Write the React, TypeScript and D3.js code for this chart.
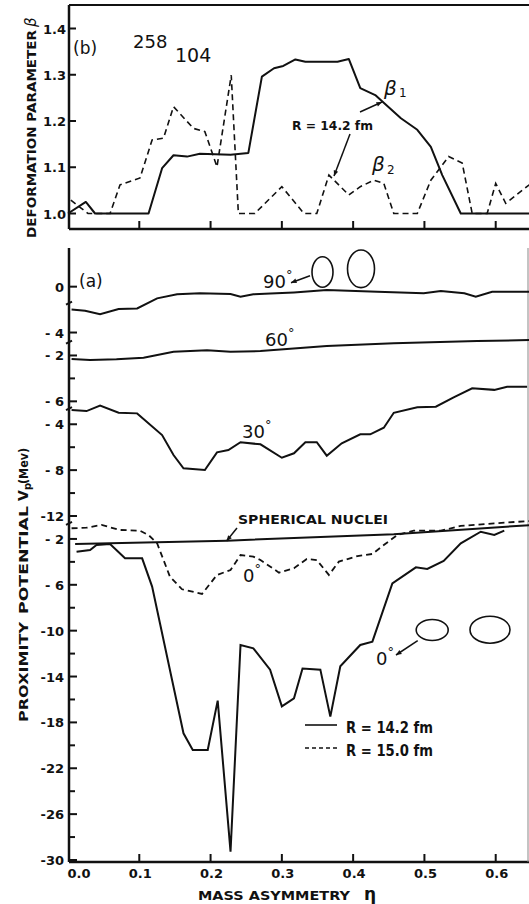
import React from "react";
import * as d3 from "d3";

// ---------- Data ----------
// Panel (b): deformation parameters vs mass asymmetry
const beta1Eta = [0.0, 0.025, 0.038, 0.113, 0.132, 0.148, 0.167, 0.185, 0.228, 0.253, 0.272, 0.289, 0.302, 0.319, 0.333, 0.378, 0.394, 0.41, 0.431, 0.441, 0.467, 0.49, 0.509, 0.525, 0.551, 0.647];
const beta1Val = [1.0, 1.025, 1.0, 1.0, 1.098, 1.126, 1.123, 1.129, 1.127, 1.131, 1.296, 1.314, 1.319, 1.333, 1.328, 1.328, 1.334, 1.271, 1.256, 1.242, 1.206, 1.181, 1.144, 1.083, 1.0, 1.0];

const beta2Eta = [0.004, 0.028, 0.059, 0.073, 0.101, 0.118, 0.134, 0.148, 0.176, 0.192, 0.209, 0.229, 0.239, 0.262, 0.3, 0.331, 0.349, 0.366, 0.394, 0.41, 0.429, 0.443, 0.457, 0.49, 0.509, 0.534, 0.553, 0.567, 0.588, 0.6, 0.614, 0.647];
const beta2Val = [1.029, 1.0, 1.0, 1.062, 1.077, 1.159, 1.163, 1.231, 1.184, 1.177, 1.101, 1.299, 1.0, 1.0, 1.058, 1.0, 1.0, 1.083, 1.04, 1.058, 1.072, 1.065, 1.0, 1.0, 1.072, 1.123, 1.109, 1.0, 1.0, 1.065, 1.022, 1.062];

// Panel (a): proximity potential (each curve in its own shifted scale)
const pot90Eta = [0.005, 0.024, 0.045, 0.071, 0.097, 0.125, 0.153, 0.185, 0.228, 0.242, 0.26, 0.284, 0.317, 0.363, 0.434, 0.499, 0.523, 0.556, 0.572, 0.595, 0.647];
const pot90Val = [-2.0, -2.1, -2.4, -1.95, -1.9, -1.02, -0.67, -0.58, -0.64, -0.88, -0.67, -0.6, -0.5, -0.3, -0.44, -0.58, -0.38, -0.58, -0.88, -0.44, -0.44];
const pot90Offset = 20;

const pot60Eta = [0.005, 0.031, 0.068, 0.106, 0.148, 0.195, 0.228, 0.27, 0.363, 0.457, 0.574, 0.647];
const pot60Val = [-2.31, -2.4, -2.34, -2.2, -1.68, -1.55, -1.68, -1.62, -1.18, -0.94, -0.74, -0.66];
const pot60Offset = 16;

const pot30Eta = [0.005, 0.026, 0.045, 0.071, 0.097, 0.132, 0.148, 0.162, 0.192, 0.209, 0.225, 0.242, 0.27, 0.3, 0.317, 0.333, 0.349, 0.363, 0.384, 0.41, 0.424, 0.443, 0.457, 0.49, 0.516, 0.541, 0.567, 0.598, 0.616, 0.644];
const pot30Val = [-2.76, -2.85, -2.38, -3.0, -3.05, -4.94, -6.68, -7.84, -7.99, -6.45, -6.25, -5.57, -5.75, -6.92, -6.53, -5.57, -5.57, -6.74, -5.66, -4.88, -4.88, -4.3, -3.0, -2.52, -2.47, -1.65, -0.87, -1.0, -0.73, -0.73];
const pot30Offset = 12;

const pot0R15Eta = [0.005, 0.026, 0.047, 0.073, 0.101, 0.113, 0.125, 0.143, 0.16, 0.188, 0.209, 0.228, 0.242, 0.26, 0.27, 0.296, 0.317, 0.335, 0.349, 0.366, 0.38, 0.406, 0.427, 0.443, 0.462, 0.485, 0.523, 0.551, 0.598, 0.647];
const pot0R15Val = [-1.07, -1.02, -0.78, -1.22, -1.28, -1.66, -2.38, -5.29, -6.39, -6.8, -5.14, -4.71, -3.4, -3.54, -3.84, -4.94, -4.56, -3.75, -3.84, -5.14, -3.98, -3.49, -3.31, -2.53, -1.66, -1.28, -1.28, -0.87, -0.64, -0.44];

const pot0R14Eta = [0.012, 0.031, 0.04, 0.059, 0.08, 0.104, 0.118, 0.129, 0.146, 0.162, 0.175, 0.196, 0.21, 0.228, 0.242, 0.26, 0.2835, 0.3, 0.317, 0.329, 0.354, 0.368, 0.382, 0.41, 0.427, 0.455, 0.488, 0.504, 0.527, 0.551, 0.579, 0.598, 0.612];
const pot0R14Val = [-3.11, -2.96, -2.53, -2.44, -3.69, -3.69, -6.16, -9.35, -14.3, -18.95, -20.4, -20.4, -16.1, -29.27, -11.25, -11.54, -13.4, -16.6, -15.9, -13.3, -13.4, -17.5, -13.1, -11.25, -10.96, -5.87, -4.48, -4.62, -3.92, -2.38, -1.37, -1.66, -1.28];

const sphericalEta = [0.01, 0.223, 0.457, 0.647];
const sphericalVal = [-2.44, -2.15, -1.59, -0.8];

// Axis ticks
const xTickValues = [0.1, 0.2, 0.3, 0.4, 0.5, 0.6];
const xTickLabelValues = [0.0, 0.1, 0.2, 0.3, 0.4, 0.5, 0.6];
const betaTicks = [1.0, 1.1, 1.2, 1.3, 1.4];
const potTickValues = [20, 16, 14, 10, 8, 4, 0, -2, -6, -10, -14, -18, -22, -26, -30];
const potTickLabels = ["0", "- 4", "- 2", "- 6", "- 4", "- 8", "-12", "- 2", "- 6", "-10", "-14", "-18", "-22", "-26", "-30"];
const potMinorTicks = [12, 6, 2, -4, -8, -12, -16, -20, -24, -28];
const potBreaks = [18.6, 15.2, 9.4, -0.6];

// ---------- Component ----------
export default function App() {
  const W = 529, H = 904;
  const x = d3.scaleLinear().domain([0, 0.6467]).range([68, 529]);
  const yB = d3.scaleLinear().domain([1.0, 1.4]).range([213.5, 28.5]);
  const yP = d3.scaleLinear().domain([0, -30]).range([516, 860]);

  const topY0 = 5, topY1 = 229;
  const botY0 = 248, botY1 = 862;
  const axX = 69;

  const line = d3.line<[number, number]>().x(d => d[0]).y(d => d[1]);
  const mk = (etas: number[], vals: number[], ys: (v: number) => number, off = 0) =>
    line(etas.map((e, i) => [x(e), ys(vals[i] + off)] as [number, number])) || "";

  const font = "'DejaVu Sans', 'Liberation Sans', sans-serif";
  const ink = "#111";

  const arrowHead = (x1: number, y1: number, x2: number, y2: number, size = 6) => {
    const a = Math.atan2(y2 - y1, x2 - x1);
    const p1 = [x2 - size * Math.cos(a - 0.4), y2 - size * Math.sin(a - 0.4)];
    const p2 = [x2 - size * Math.cos(a + 0.4), y2 - size * Math.sin(a + 0.4)];
    return (
      <g>
        <line x1={x1} y1={y1} x2={x2} y2={y2} stroke={ink} strokeWidth={1.5} />
        <path d={`M${x2},${y2}L${p1[0]},${p1[1]}L${p2[0]},${p2[1]}Z`} fill={ink} />
      </g>
    );
  };

  const deg = (xx: number, yy: number, num: string) => (
    <text x={xx} y={yy} fontSize={18} fill={ink}>
      {num}
      <tspan dy={-9} fontSize={13}>°</tspan>
    </text>
  );

  return (
    <svg width={W} height={H} style={{ position: "absolute", left: 0, top: 0, background: "#fff" }} fontFamily={font}>
      <rect x={0} y={0} width={W} height={H} fill="#fff" />

      {/* ---------- Top panel (b) ---------- */}
      <g>
        <line x1={axX} y1={topY0} x2={axX} y2={topY1} stroke={ink} strokeWidth={2.5} />
        <line x1={axX} y1={topY0} x2={W} y2={topY0} stroke={ink} strokeWidth={2} />
        <line x1={axX} y1={topY1} x2={W} y2={topY1} stroke={ink} strokeWidth={2.5} />
        {xTickValues.map(t => (
          <line key={"tb" + t} x1={x(t)} x2={x(t)} y1={topY1} y2={topY1 - 8} stroke={ink} strokeWidth={2} />
        ))}
        {betaTicks.map(t => (
          <g key={"bt" + t}>
            <line x1={axX} x2={axX + 7} y1={yB(t)} y2={yB(t)} stroke={ink} strokeWidth={2} />
            <text x={66} y={yB(t) + 5} textAnchor="end" fontSize={13} fontWeight="bold" fill={ink}>{t.toFixed(1)}</text>
          </g>
        ))}
        <text transform="translate(36,238) rotate(-90)" fontSize={13} fontWeight="bold" fill={ink} textLength={208} lengthAdjust="spacingAndGlyphs">DEFORMATION PARAMETER</text>
        <text transform="translate(36,27) rotate(-90)" fontSize={15} fontStyle="italic" fill={ink}>β</text>

        <path d={mk(beta1Eta, beta1Val, yB)} fill="none" stroke={ink} strokeWidth={2} strokeLinejoin="round" />
        <path d={mk(beta2Eta, beta2Val, yB)} fill="none" stroke={ink} strokeWidth={1.6} strokeDasharray="6,4" />

        <text x={73} y={54} fontSize={17} fill={ink}>(b)</text>
        <text x={133} y={48} fontSize={18} fill={ink}>258</text>
        <text x={175} y={62} fontSize={19} fill={ink}>104</text>

        <text x={384} y={95} fontSize={20} fontStyle="italic" fill={ink}>β</text>
        <text x={399} y={97} fontSize={12} fill={ink}>1</text>
        <text x={372} y={171} fontSize={20} fontStyle="italic" fill={ink}>β</text>
        <text x={387} y={174} fontSize={12} fill={ink}>2</text>

        <text x={292} y={130} fontSize={13} fontWeight="bold" fill={ink} textLength={81} lengthAdjust="spacingAndGlyphs">R = 14.2 fm</text>
        {arrowHead(360, 112, 382, 102)}
        {arrowHead(350, 134, 334, 176)}
      </g>

      {/* ---------- Bottom panel (a) ---------- */}
      <g>
        <line x1={axX} y1={botY0} x2={axX} y2={botY1} stroke={ink} strokeWidth={2.5} />
        <line x1={axX} y1={botY1} x2={W} y2={botY1} stroke={ink} strokeWidth={2.5} />
        <line x1={528} y1={botY0} x2={528} y2={botY1} stroke="#888" strokeWidth={1} />
        {xTickValues.map(t => (
          <line key={"tx" + t} x1={x(t)} x2={x(t)} y1={botY1} y2={botY1 - 8} stroke={ink} strokeWidth={2} />
        ))}
        {xTickLabelValues.map(t => (
          <text key={"xl" + t} x={t === 0 ? x(t) + 11 : x(t) + 1} y={878} textAnchor="middle" fontSize={13} fontWeight="bold" fill={ink}>{t.toFixed(1)}</text>
        ))}
        {potTickValues.map((t, i) => (
          <g key={"pt" + i}>
            <line x1={axX} x2={axX + 8} y1={yP(t)} y2={yP(t)} stroke={ink} strokeWidth={2} />
            <text x={64} y={yP(t) + 5} textAnchor="end" fontSize={13} fontWeight="bold" fill={ink}>{potTickLabels[i]}</text>
          </g>
        ))}
        {potMinorTicks.map(t => (
          <line key={"pm" + t} x1={axX} x2={axX + 6} y1={yP(t)} y2={yP(t)} stroke={ink} strokeWidth={2} />
        ))}
        {potBreaks.map(t => (
          <line key={"pb" + t} x1={axX - 3} x2={axX + 3} y1={yP(t) + 2} y2={yP(t) - 1} stroke={ink} strokeWidth={2} />
        ))}

        <text transform="translate(28,722) rotate(-90)" fontSize={13} fontWeight="bold" fill={ink} textLength={100} lengthAdjust="spacingAndGlyphs">PROXIMITY</text>
        <text transform="translate(28,614) rotate(-90)" fontSize={13} fontWeight="bold" fill={ink} textLength={108} lengthAdjust="spacingAndGlyphs">POTENTIAL</text>
        <text transform="translate(28,501) rotate(-90)" fontSize={14} fontWeight="bold" fill={ink}>V</text>
        <text transform="translate(31,490) rotate(-90)" fontSize={10} fontWeight="bold" fill={ink}>p</text>
        <text transform="translate(28,484) rotate(-90)" fontSize={13} fontWeight="bold" fill={ink} textLength={36} lengthAdjust="spacingAndGlyphs">(Mev)</text>

        <text x={198} y={900} fontSize={13} fontWeight="bold" fill={ink} textLength={152} lengthAdjust="spacingAndGlyphs">MASS ASYMMETRY</text>
        <text x={364} y={900} fontSize={17} fontWeight="bold" fill={ink}>η</text>

        <path d={mk(pot90Eta, pot90Val, yP, pot90Offset)} fill="none" stroke={ink} strokeWidth={2} />
        <path d={mk(pot60Eta, pot60Val, yP, pot60Offset)} fill="none" stroke={ink} strokeWidth={2} />
        <path d={mk(pot30Eta, pot30Val, yP, pot30Offset)} fill="none" stroke={ink} strokeWidth={2} />
        <path d={mk(sphericalEta, sphericalVal, yP)} fill="none" stroke={ink} strokeWidth={2} />
        <path d={mk(pot0R15Eta, pot0R15Val, yP)} fill="none" stroke={ink} strokeWidth={1.8} strokeDasharray="6,4" />
        <path d={mk(pot0R14Eta, pot0R14Val, yP)} fill="none" stroke={ink} strokeWidth={2} strokeLinejoin="miter" />

        <text x={79} y={287} fontSize={17} fill={ink}>(a)</text>
        {deg(263, 288, "90")}
        {deg(265, 346, "60")}
        {deg(242, 438, "30")}
        {deg(243, 582, "0")}
        {deg(376, 665, "0")}

        <ellipse cx={322.5} cy={272} rx={10.5} ry={15.3} fill="none" stroke={ink} strokeWidth={1.6} />
        <ellipse cx={361} cy={268.8} rx={13.5} ry={18.8} fill="none" stroke={ink} strokeWidth={1.6} />
        {arrowHead(310, 275.7, 291, 282.7)}

        <ellipse cx={432.2} cy={630} rx={16} ry={10.5} fill="none" stroke={ink} strokeWidth={1.6} />
        <ellipse cx={490} cy={629.7} rx={20} ry={13.5} fill="none" stroke={ink} strokeWidth={1.6} />
        {arrowHead(417.7, 640.7, 396, 655)}

        <text x={238} y={524} fontSize={13} fontWeight="bold" fill={ink} textLength={150} lengthAdjust="spacingAndGlyphs">SPHERICAL NUCLEI</text>
        {arrowHead(237, 528, 226.5, 541)}

        <line x1={305} x2={337} y1={725} y2={725} stroke={ink} strokeWidth={1.6} />
        <text x={346} y={733} fontSize={15} fontWeight="bold" fill={ink} textLength={87} lengthAdjust="spacingAndGlyphs">R = 14.2 fm</text>
        <line x1={305} x2={337} y1={748} y2={748} stroke={ink} strokeWidth={1.6} strokeDasharray="4,3" />
        <text x={346} y={756} fontSize={15} fontWeight="bold" fill={ink} textLength={87} lengthAdjust="spacingAndGlyphs">R = 15.0 fm</text>
      </g>
    </svg>
  );
}
